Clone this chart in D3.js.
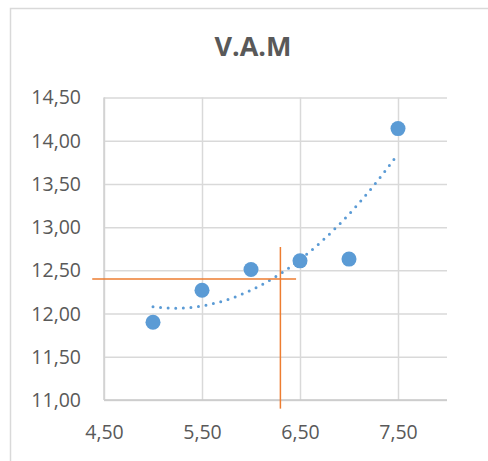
<!DOCTYPE html>
<html>
<head>
<meta charset="utf-8">
<script src="https://cdn.jsdelivr.net/npm/d3@7"></script>
<style>
  html, body { margin: 0; padding: 0; background: #fff; }
  svg { display: block; }
</style>
</head>
<body>
<svg id="chart" width="488" height="461"></svg>
<script>
// Observations
const xValues = [5.0, 5.5, 6.0, 6.5, 7.0, 7.5];
const yValues = [11.90, 12.27, 12.51, 12.61, 12.63, 14.14];

// Axis ticks
const xTicks = [4.5, 5.5, 6.5, 7.5];
const yTicks = [11.0, 11.5, 12.0, 12.5, 13.0, 13.5, 14.0, 14.5];

// Reference cross-hair (horizontal and vertical guide segments)
const hLineY = [12.40];
const hLineX = [4.38, 6.46];
const vLineX = [6.30];
const vLineY = [10.90, 12.77];

const title = "V.A.M";

const svg = d3.select("#chart");
const plot = { left: 104, right: 447, top: 97.5, bottom: 400 };

const x = d3.scaleLinear().domain([4.5, 8.0]).range([plot.left, plot.right]);
const y = d3.scaleLinear().domain([11.0, 14.5]).range([plot.bottom, plot.top]);

const fmt = v => d3.format(".2f")(v).replace(".", ",");
const textColor = "#595959";
const font = "'Open Sans', 'Noto Sans', sans-serif";

// Chart area frame
svg.append("rect")
  .attr("x", 10.5).attr("y", 8.5)
  .attr("width", 600).attr("height", 600)
  .attr("fill", "#fff")
  .attr("stroke", "#d9d9d9").attr("stroke-width", 1.5);

// Title
svg.append("text")
  .attr("x", 253).attr("y", 56)
  .attr("text-anchor", "middle")
  .attr("font-family", font).attr("font-weight", 700)
  .attr("font-size", 27).attr("fill", textColor)
  .text(title);

// Horizontal gridlines + y labels
const yAxis = d3.axisLeft(y).tickValues(yTicks).tickSize(-(plot.right - plot.left)).tickFormat(fmt).tickPadding(23);
const gy = svg.append("g").attr("transform", `translate(${plot.left},0)`).call(yAxis);
gy.select(".domain").remove();
gy.selectAll(".tick line").attr("stroke", "#d9d9d9").attr("stroke-width", 1.5);
gy.selectAll(".tick text")
  .attr("font-family", font).attr("font-size", 19.5).attr("fill", textColor)
  .attr("dy", "0.33em");

// Vertical gridlines + x labels
const xAxis = d3.axisBottom(x).tickValues(xTicks).tickSize(-(plot.bottom - plot.top)).tickFormat(fmt).tickPadding(25);
const gx = svg.append("g").attr("transform", `translate(0,${plot.bottom})`).call(xAxis);
gx.select(".domain").remove();
gx.selectAll(".tick line").attr("stroke", "#d9d9d9").attr("stroke-width", 1.5);
gx.selectAll(".tick text")
  .attr("font-family", font).attr("font-size", 19.5).attr("fill", textColor);

// Axis baselines
svg.append("line")
  .attr("x1", plot.left).attr("x2", plot.right)
  .attr("y1", plot.bottom).attr("y2", plot.bottom)
  .attr("stroke", "#c8c8c8").attr("stroke-width", 1.5);
svg.append("line")
  .attr("x1", plot.left).attr("x2", plot.left)
  .attr("y1", plot.top).attr("y2", plot.bottom)
  .attr("stroke", "#d0d0d0").attr("stroke-width", 1.5);

// Second-order polynomial least-squares trendline
function polyFit(xs, ys, order) {
  const n = order + 1;
  const A = Array.from({ length: n }, () => new Array(n + 1).fill(0));
  xs.forEach((xv, k) => {
    for (let i = 0; i < n; i++) {
      for (let j = 0; j < n; j++) A[i][j] += Math.pow(xv, i + j);
      A[i][n] += ys[k] * Math.pow(xv, i);
    }
  });
  for (let c = 0; c < n; c++) {
    let p = c;
    for (let r = c + 1; r < n; r++) if (Math.abs(A[r][c]) > Math.abs(A[p][c])) p = r;
    [A[c], A[p]] = [A[p], A[c]];
    for (let r = 0; r < n; r++) {
      if (r === c) continue;
      const f = A[r][c] / A[c][c];
      for (let k = c; k <= n; k++) A[r][k] -= f * A[c][k];
    }
  }
  return A.map((row, i) => row[n] / row[i]);
}
const coef = polyFit(xValues, yValues, 2);
const fitAt = xv => coef.reduce((s, c, i) => s + c * Math.pow(xv, i), 0);
const [xMin, xMax] = d3.extent(xValues);
const trend = d3.range(0, 101).map(i => {
  const xv = xMin + (xMax - xMin) * i / 100;
  return [xv, fitAt(xv)];
});
svg.append("path")
  .datum(trend)
  .attr("fill", "none")
  .attr("stroke", "#5b9bd5")
  .attr("stroke-width", 3)
  .attr("stroke-linecap", "round")
  .attr("stroke-dasharray", "0 7.6")
  .attr("d", d3.line().x(d => x(d[0])).y(d => y(d[1])));

// Data points
svg.append("g").selectAll("circle")
  .data(xValues.map((xv, i) => [xv, yValues[i]]))
  .join("circle")
  .attr("cx", d => x(d[0]))
  .attr("cy", d => y(d[1]))
  .attr("r", 7.5)
  .attr("fill", "#5b9bd5");

// Orange guide segments
const orange = "#ed7d31";
svg.append("line")
  .attr("x1", x(hLineX[0])).attr("x2", x(hLineX[1]))
  .attr("y1", y(hLineY[0])).attr("y2", y(hLineY[0]))
  .attr("stroke", orange).attr("stroke-width", 1.5);
svg.append("line")
  .attr("x1", x(vLineX[0])).attr("x2", x(vLineX[0]))
  .attr("y1", y(vLineY[0])).attr("y2", y(vLineY[1]))
  .attr("stroke", orange).attr("stroke-width", 1.5);
</script>
</body>
</html>
